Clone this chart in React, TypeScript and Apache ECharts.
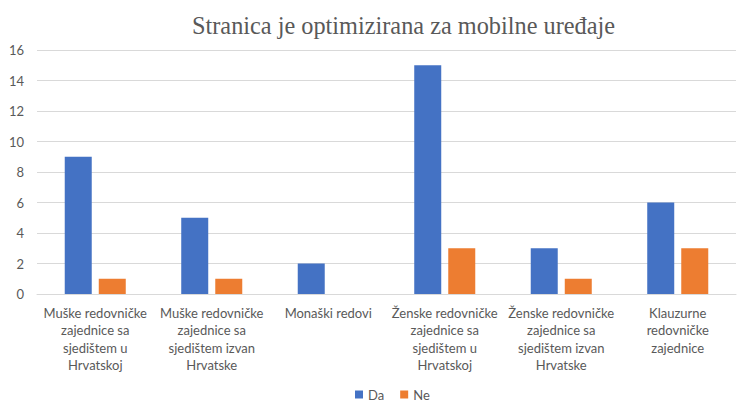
import React, { useEffect, useRef } from "react";
import * as echarts from "echarts";

const categories = [
  "Muške redovničke\nzajednice sa\nsjedištem u\nHrvatskoj",
  "Muške redovničke\nzajednice sa\nsjedištem izvan\nHrvatske",
  "Monaški redovi",
  "Ženske redovničke\nzajednice sa\nsjedištem u\nHrvatskoj",
  "Ženske redovničke\nzajednice sa\nsjedištem izvan\nHrvatske",
  "Klauzurne\nredovničke\nzajednice",
];
const daValues = [9, 5, 2, 15, 3, 6];
const neValues = [1, 1, 0, 3, 1, 3];

export default function App() {
  const ref = useRef<HTMLDivElement>(null);
  useEffect(() => {
    document.body.style.margin = "0";
    document.body.style.overflow = "hidden";
    document.documentElement.style.overflow = "hidden";
    const chart = echarts.init(ref.current!, null, { renderer: "svg" });
    chart.setOption({
      animation: false,
      title: {
        text: "Stranica je optimizirana za mobilne uređaje",
        left: 187,
        top: 8,
        textStyle: {
          fontFamily: "Liberation Serif",
          fontSize: 24.3,
          fontWeight: "normal",
          color: "#595959",
        },
      },
      legend: {
        top: 388,
        left: 355,
        padding: 0,
        itemWidth: 8,
        itemHeight: 8,
        itemGap: 16,
        icon: "rect",
        textStyle: { fontFamily: "Lato", fontSize: 13, color: "#595959" },
        data: ["Da", "Ne"],
      },
      grid: { left: 37, right: 10, top: 50, bottom: 107 },
      xAxis: {
        type: "category",
        data: categories,
        axisLine: { lineStyle: { color: "#d9d9d9" } },
        axisTick: { show: false },
        axisLabel: {
          interval: 0,
          fontFamily: "Lato",
          fontSize: 13,
          color: "#595959",
          lineHeight: 17.5,
          margin: 10,
        },
      },
      yAxis: {
        type: "value",
        min: 0,
        max: 16,
        interval: 2,
        splitLine: { lineStyle: { color: "#d9d9d9" } },
        axisLabel: {
          fontFamily: "Lato",
          fontSize: 13,
          color: "#595959",
          margin: 13,
        },
      },
      series: [
        {
          name: "Da",
          type: "bar",
          data: daValues,
          barWidth: 27,
          barGap: "26%",
          itemStyle: { color: "#4472C4" },
        },
        {
          name: "Ne",
          type: "bar",
          data: neValues,
          barWidth: 27,
          itemStyle: { color: "#ED7D31" },
        },
      ],
    });
    return () => chart.dispose();
  }, []);
  return (
    <div
      ref={ref}
      style={{ position: "absolute", left: 0, top: 0, width: 746, height: 401 }}
    />
  );
}
